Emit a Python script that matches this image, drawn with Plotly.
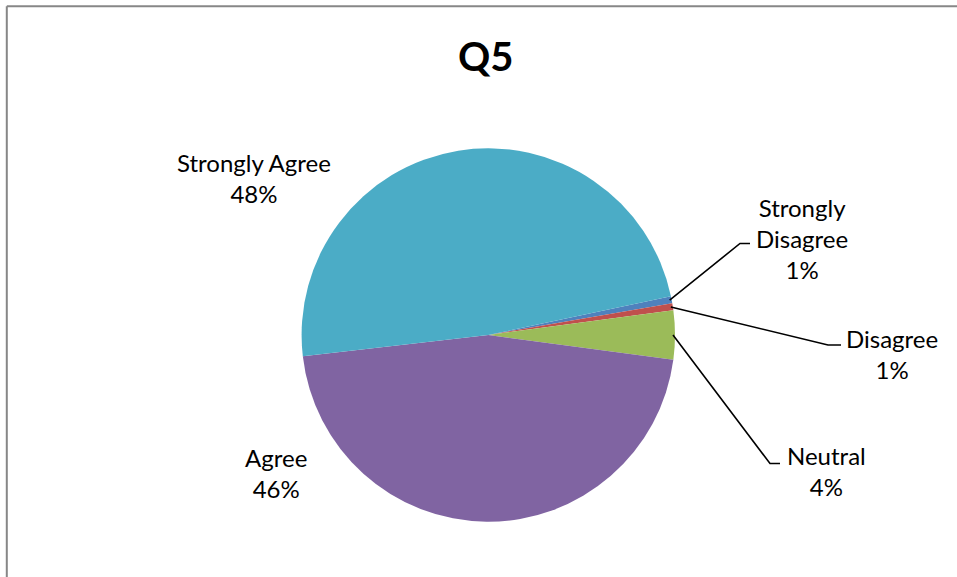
import math
import plotly.graph_objects as go

# Survey responses for question 5
categories = ["Strongly Disagree", "Disagree", "Neutral", "Agree", "Strongly Agree"]
counts = [1, 1, 7, 76, 80]
colors = ["#4F81BD", "#C0504D", "#9BBB59", "#8064A2", "#4BACC6"]

W, H = 957, 577
CX, CY, R = 488.3, 335.0, 186.7   # pie centre / radius in page pixels
ROTATION = 78.0                   # start angle, degrees clockwise from 12 o'clock


def px(x):
    return x / W


def py(y):
    return 1 - y / H


fig = go.Figure(
    go.Pie(
        labels=categories,
        values=counts,
        sort=False,
        direction="clockwise",
        rotation=ROTATION,
        marker=dict(colors=colors, line=dict(width=0)),
        textinfo="none",
        hoverinfo="label+percent",
        domain=dict(x=[px(CX - R), px(CX + R)], y=[py(CY + R), py(CY - R)]),
        showlegend=False,
    )
)

total = sum(counts)
pct = [round(100 * v / total) for v in counts]

# mid-angle of each slice (degrees clockwise from 12 o'clock)
mids = []
acc = ROTATION
for v in counts:
    span = 360 * v / total
    mids.append(acc + span / 2)
    acc += span


def edge_point(angle_deg, r=R):
    a = math.radians(angle_deg)
    return CX + r * math.sin(a), CY - r * math.cos(a)


# label text centres and leader-line elbows (page pixels)
label_pos = {
    "Strongly Disagree": (802, 238),
    "Disagree": (892, 354),
    "Neutral": (826, 471),
    "Agree": (276, 473),
    "Strongly Agree": (254, 178),
}
display = {
    "Strongly Disagree": "Strongly<br>Disagree",
    "Disagree": "Disagree",
    "Neutral": "Neutral",
    "Agree": "Agree",
    "Strongly Agree": "Strongly Agree",
}
elbows = {
    "Strongly Disagree": ((740, 243.5), (750, 243.5)),
    "Disagree": ((828, 345), (841, 345)),
    "Neutral": ((770, 463.5), (780, 463.5)),
}

FONT = "Lato, 'Open Sans', sans-serif"
annotations = []
shapes = []
for name, p, mid in zip(categories, pct, mids):
    lx, ly = label_pos[name]
    annotations.append(
        dict(
            x=px(lx), y=py(ly), xref="paper", yref="paper",
            text=f"{display[name]}<br>{p}%",
            showarrow=False, xanchor="center", yanchor="middle",
            align="center",
            font=dict(family=FONT, size=24, color="#000000"),
        )
    )
    if name in elbows:
        sx, sy = edge_point(mid, R - 2)
        (ex, ey), (hx, hy) = elbows[name]
        path = f"M {px(sx)},{py(sy)} L {px(ex)},{py(ey)} L {px(hx)},{py(hy)}"
        shapes.append(
            dict(type="path", xref="paper", yref="paper", path=path,
                 line=dict(color="#000000", width=1.6))
        )

# chart-area frame (top and left edges visible)
shapes.append(dict(type="line", xref="paper", yref="paper",
                   x0=px(6.8), x1=1.0, y0=py(6.3), y1=py(6.3),
                   line=dict(color="#878787", width=2)))
shapes.append(dict(type="line", xref="paper", yref="paper",
                   x0=px(6.8), x1=px(6.8), y0=py(6.3), y1=0.0,
                   line=dict(color="#878787", width=2)))

annotations.append(
    dict(x=px(486), y=py(56), xref="paper", yref="paper", text="<b>Q5</b>",
         showarrow=False, xanchor="center", yanchor="middle",
         font=dict(family=FONT, size=40, color="#000000"))
)

fig.update_layout(
    width=W, height=H,
    margin=dict(l=0, r=0, t=0, b=0),
    paper_bgcolor="#FFFFFF",
    plot_bgcolor="#FFFFFF",
    annotations=annotations,
    shapes=shapes,
)

fig.write_html("out.html")
